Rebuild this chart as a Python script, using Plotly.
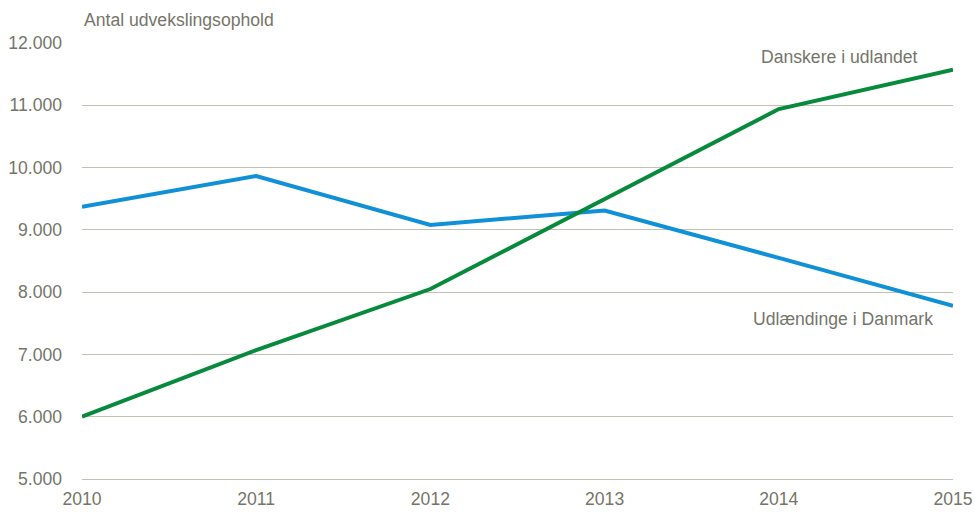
import plotly.graph_objects as go

years = [2010, 2011, 2012, 2013, 2014, 2015]
danskere_i_udlandet = [6000, 7070, 8050, 9500, 10940, 11570]
udlaendinge_i_danmark = [9370, 9865, 9080, 9310, 8550, 7780]
y_ticks = [5000, 6000, 7000, 8000, 9000, 10000, 11000, 12000]
y_tick_labels = ["5.000", "6.000", "7.000", "8.000", "9.000", "10.000", "11.000", "12.000"]

TEXT = "#75756a"
GRID = "#c2c0b3"
FONT = "Liberation Sans, Arial, sans-serif"
FS = 17.6

fig = go.Figure()
fig.add_trace(go.Scatter(x=years, y=udlaendinge_i_danmark, mode="lines",
                         line=dict(color="#1090d6", width=4), name="Udlændinge i Danmark"))
fig.add_trace(go.Scatter(x=years, y=danskere_i_udlandet, mode="lines",
                         line=dict(color="#078a3c", width=4), name="Danskere i udlandet"))

fig.update_layout(
    width=975, height=513,
    margin=dict(l=82, r=22, t=43, b=34),
    plot_bgcolor="white", paper_bgcolor="white",
    showlegend=False,
    font=dict(family=FONT, color=TEXT, size=FS),
    xaxis=dict(range=[2010, 2015], tickvals=years, ticktext=[str(y) for y in years],
               showgrid=False, zeroline=False, showline=True, linecolor=GRID, linewidth=1.3,
               ticks="", automargin=False, ticklabeloverflow="allow", ticklabelstandoff=4,
               tickfont=dict(size=FS, color=TEXT), fixedrange=True),
    yaxis=dict(range=[5000, 12000], tickvals=y_ticks, ticktext=y_tick_labels,
               showgrid=True, gridcolor=GRID, gridwidth=1.3, zeroline=False,
               showline=False, ticks="", ticklabelstandoff=19, automargin=False,
               tickfont=dict(size=FS, color=TEXT), fixedrange=True),
    annotations=[
        dict(text="Antal udvekslingsophold", xref="paper", yref="paper", x=0, y=1,
             xanchor="left", yanchor="bottom", yshift=11, showarrow=False,
             font=dict(size=FS, color=TEXT)),
        dict(text="Danskere i udlandet", xref="x", yref="y", x=2014.35, y=11780,
             xanchor="center", yanchor="middle", showarrow=False,
             font=dict(size=FS, color=TEXT)),
        dict(text="Udlændinge i Danmark", xref="x", yref="y", x=2014.37, y=7570,
             xanchor="center", yanchor="middle", showarrow=False,
             font=dict(size=FS, color=TEXT)),
    ],
)

fig.write_html(
    "out.html",
    config={"displayModeBar": False},
    post_script="document.body.style.margin='0';document.body.style.overflow='hidden';",
)
